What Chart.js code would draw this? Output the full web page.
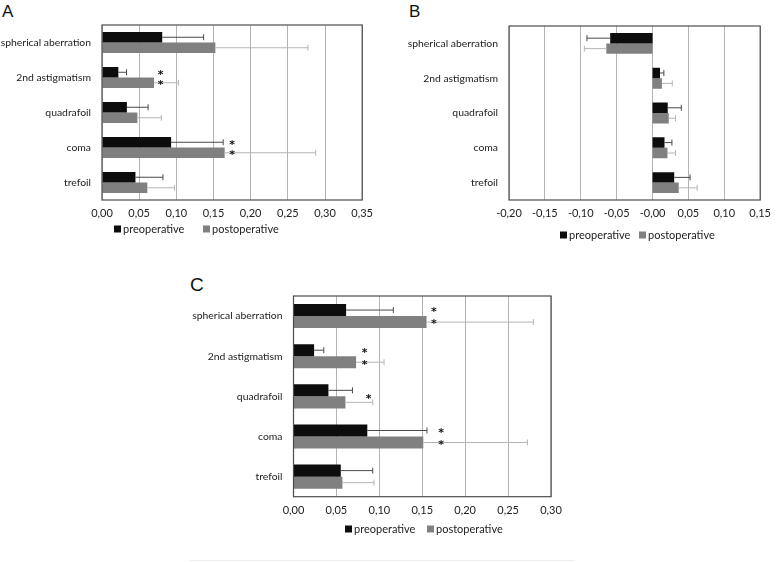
<!DOCTYPE html>
<html>
<head>
<meta charset="utf-8">
<script src="https://cdn.jsdelivr.net/npm/chart.js@4.4.1/dist/chart.umd.min.js"></script>
<style>
  body { margin: 0; background: #fff; }
  #wrap { position: relative; width: 778px; height: 562px; overflow: hidden; background: #fff; }
  .panel { position: absolute; }
  .letter { position: absolute; font-family: "Liberation Sans", Arial, sans-serif; color: #111; line-height: 1; }
  #rule { position: absolute; left: 190px; top: 560px; width: 384px; border-top: 1px solid #ececec; }
</style>
</head>
<body>
<div id="wrap">
  <div class="letter" style="left:2px;top:3px;font-size:17px">A</div>
  <div class="letter" style="left:409px;top:3px;font-size:17px">B</div>
  <div class="letter" style="left:190px;top:275px;font-size:19px">C</div>
  <div class="panel" style="left:0;top:0;width:380px;height:250px"><canvas id="chartA"></canvas></div>
  <div class="panel" style="left:390px;top:0;width:388px;height:250px"><canvas id="chartB"></canvas></div>
  <div class="panel" style="left:180px;top:270px;width:420px;height:290px"><canvas id="chartC"></canvas></div>
  <div id="rule"></div>
</div>
<script>
const categories = ["spherical aberration", "2nd astigmatism", "quadrafoil", "coma", "trefoil"];
const seriesNames = ["preoperative", "postoperative"];

// A
const preA = [0.081, 0.022, 0.0335, 0.093, 0.045];
const preA_sd = [0.0557, 0.011, 0.0285, 0.070, 0.037];
const postA = [0.1525, 0.070, 0.0476, 0.165, 0.061];
const postA_sd = [0.1245, 0.033, 0.0322, 0.1225, 0.0366];
const starsA = [null, 0.079, null, 0.175, null];
const starCountA = [0, 2, 0, 2, 0];
const ticksA = { min: 0, max: 0.35, step: 0.05 };

// B
const preB = [-0.059, 0.0104, 0.0212, 0.0167, 0.0302];
const preB_sd = [0.0324, 0.0054, 0.0189, 0.0103, 0.0221];
const postB = [-0.0644, 0.0131, 0.0226, 0.0208, 0.0365];
const postB_sd = [0.0306, 0.0144, 0.0094, 0.0112, 0.0257];
const ticksB = { min: -0.2, max: 0.15, step: 0.05 };

// C
const preC = [0.0613, 0.024, 0.0407, 0.086, 0.0551];
const preC_sd = [0.055, 0.0113, 0.028, 0.0695, 0.0372];
const postC = [0.155, 0.0729, 0.0605, 0.1512, 0.057];
const postC_sd = [0.1245, 0.0326, 0.0318, 0.1213, 0.0368];
const starsC = [0.1636, 0.083, 0.0876, 0.172, null];
const starCountC = [2, 2, 1, 2, 0];
const ticksC = { min: 0, max: 0.30, step: 0.05 };

const FONT = "Lato";
const PRE_COLOR = "#0d0d0d", POST_COLOR = "#808080";

// whiskers from the end of each bar
const errorBars = {
  id: "errorBars",
  afterDatasetsDraw(chart) {
    const ctx = chart.ctx, xs = chart.scales.x;
    chart.data.datasets.forEach((ds, di) => {
      chart.getDatasetMeta(di).data.forEach((bar, i) => {
        const v = ds.data[i], e = ds.errors[i];
        const end = xs.getPixelForValue(v < 0 ? v - e : v + e);
        ctx.save();
        ctx.strokeStyle = ds.errorColor;
        ctx.lineWidth = 1;
        ctx.beginPath();
        ctx.moveTo(bar.x, bar.y);
        ctx.lineTo(end, bar.y);
        ctx.moveTo(end, bar.y - 3);
        ctx.lineTo(end, bar.y + 3);
        ctx.stroke();
        ctx.restore();
      });
    });
  }
};

const stars = {
  id: "stars",
  afterDatasetsDraw(chart, args, opts) {
    if (!opts.values) return;
    const ctx = chart.ctx, xs = chart.scales.x;
    const m0 = chart.getDatasetMeta(0).data, m1 = chart.getDatasetMeta(1).data;
    ctx.save();
    ctx.fillStyle = "#111";
    ctx.font = "bold 11px 'DejaVu Sans'";
    ctx.textAlign = "center";
    ctx.textBaseline = "middle";
    opts.values.forEach((v, i) => {
      if (v === null) return;
      const x = xs.getPixelForValue(v);
      const ys = opts.counts[i] === 2 ? [m0[i].y, m1[i].y] : [(m0[i].y + m1[i].y) / 2];
      ys.forEach(y => ctx.fillText("*", x, y + 2.5));
    });
    ctx.restore();
  }
};

const frame = {
  id: "frame",
  afterDraw(chart) {
    const { ctx, chartArea: a } = chart;
    ctx.save();
    ctx.strokeStyle = "#4d4d4d";
    ctx.lineWidth = 1.2;
    ctx.strokeRect(a.left, a.top, a.right - a.left, a.bottom - a.top);
    ctx.restore();
  }
};

const boxLegend = {
  id: "boxLegend",
  afterDraw(chart, args, opts) {
    const ctx = chart.ctx;
    ctx.save();
    ctx.font = "11px " + FONT;
    ctx.textBaseline = "middle";
    chart.data.datasets.forEach((ds, i) => {
      const x = opts.x[i];
      ctx.fillStyle = ds.backgroundColor;
      ctx.fillRect(x, opts.y - 3.5, 7, 7);
      ctx.fillStyle = "#222";
      ctx.fillText(ds.label, x + 9, opts.y);
    });
    ctx.restore();
  }
};

function makeChart(id, pre, preSd, post, postSd, t, area, legendPos, starOpts) {
  return new Chart(document.getElementById(id), {
    type: "bar",
    data: {
      labels: categories,
      datasets: [
        { label: seriesNames[0], data: pre, errors: preSd, errorColor: "#4a4a4a",
          backgroundColor: PRE_COLOR, categoryPercentage: 0.6, barPercentage: 1.0 },
        { label: seriesNames[1], data: post, errors: postSd, errorColor: "#b5b5b5",
          backgroundColor: POST_COLOR, categoryPercentage: 0.6, barPercentage: 1.0 }
      ]
    },
    options: {
      indexAxis: "y",
      responsive: true,
      maintainAspectRatio: false,
      animation: false,
      layout: { padding: { left: 0, top: area.top, right: area.right, bottom: 0 } },
      scales: {
        x: {
          min: t.min, max: t.max,
          border: { display: false },
          grid: { color: "#b3b3b3", drawTicks: false, lineWidth: 1 },
          ticks: {
            stepSize: t.step, padding: 7, color: "#222",
            font: { family: FONT, size: 11 },
            callback: v => v.toFixed(2).replace(".", ",")
          },
          afterFit: s => { s.height = area.xh; }
        },
        y: {
          border: { display: false },
          grid: { display: false, drawTicks: false },
          ticks: { padding: 11, color: "#222", font: { family: FONT, size: 10.4 } },
          afterFit: s => { s.width = area.left; }
        }
      },
      plugins: {
        legend: { display: false },
        tooltip: { enabled: false },
        boxLegend: legendPos,
        stars: starOpts || {}
      }
    },
    plugins: [errorBars, stars, frame, boxLegend]
  });
}

makeChart("chartA", preA, preA_sd, postA, postA_sd, ticksA,
  { left: 102, top: 25, right: 12, xh: 50 },
  { x: [114, 203], y: 229 },
  { values: starsA, counts: starCountA });

makeChart("chartB", preB, preB_sd, postB, postB_sd, ticksB,
  { left: 119, top: 26, right: 10, xh: 50 },
  { x: [170, 249], y: 235 });

makeChart("chartC", preC, preC_sd, postC, postC_sd, ticksC,
  { left: 113.5, top: 26, right: 49, xh: 63.3 },
  { x: [165, 247], y: 259 },
  { values: starsC, counts: starCountC });
</script>
</body>
</html>
